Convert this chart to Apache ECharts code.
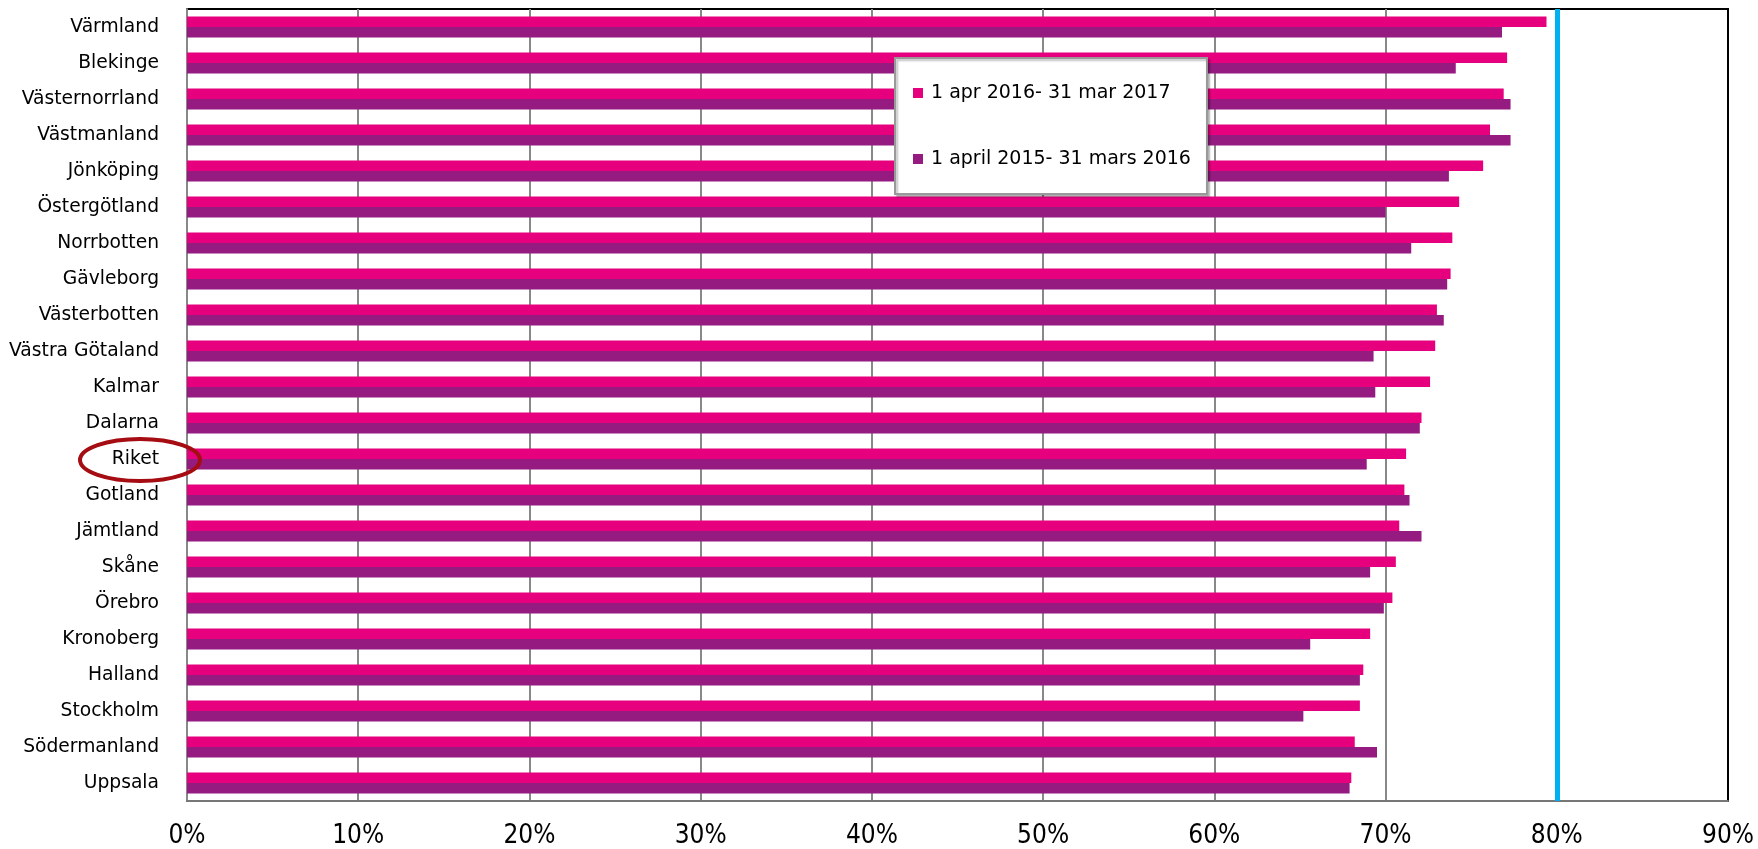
<!DOCTYPE html>
<html>
<head>
<meta charset="utf-8">
<script src="https://cdn.jsdelivr.net/npm/echarts@6/dist/echarts.min.js"></script>
<style>
  html, body { margin: 0; padding: 0; background: #fff; }
  #chart { width: 1758px; height: 849px; }
</style>
</head>
<body>
<div id="chart"></div>
<script>
const categories = ["Värmland", "Blekinge", "Västernorrland", "Västmanland", "Jönköping", "Östergötland",
  "Norrbotten", "Gävleborg", "Västerbotten", "Västra Götaland", "Kalmar", "Dalarna", "Riket",
  "Gotland", "Jämtland", "Skåne", "Örebro", "Kronoberg", "Halland", "Stockholm", "Södermanland", "Uppsala"];
const period2016 = [79.4, 77.1, 76.9, 76.1, 75.7, 74.3, 73.9, 73.8, 73.0, 72.9, 72.6,
  72.1, 71.2, 71.1, 70.8, 70.6, 70.4, 69.1, 68.7, 68.5, 68.2, 68.0];
const period2015 = [76.8, 74.1, 77.3, 77.3, 73.7, 70.0, 71.5, 73.6, 73.4, 69.3, 69.4,
  72.0, 68.9, 71.4, 72.1, 69.1, 69.9, 65.6, 68.5, 65.2, 69.5, 67.9];
const seriesNames = ["1 apr 2016- 31 mar 2017", "1 april 2015- 31 mars 2016"];
const target = 80;
const highlighted = "Riket";

const myChart = echarts.init(document.getElementById("chart"));

const option = {
  animation: false,
  color: ["#E6007E", "#951B81"],
  grid: {
    left: 187,
    right: 30,
    top: 9,
    bottom: 48,
    show: true,
    borderColor: "#000",
    borderWidth: 2
  },
  legend: {
    orient: "vertical",
    left: 895,
    top: 58,
    data: seriesNames,
    icon: "rect",
    itemWidth: 10,
    itemHeight: 10,
    itemGap: 46,
    padding: [25, 16, 25, 18],
    backgroundColor: "#fff",
    borderColor: "#999",
    borderWidth: 2,
    shadowColor: "rgba(0,0,0,0.25)",
    shadowBlur: 2,
    shadowOffsetX: 2,
    shadowOffsetY: 2,
    textStyle: {
      fontFamily: "DejaVu Sans",
      fontSize: 19,
      color: "#000",
      lineHeight: 20,
      padding: [0, 0, 0, 3]
    }
  },
  xAxis: {
    type: "value",
    min: 0,
    max: 90,
    interval: 10,
    axisLine: { show: true, lineStyle: { color: "#777", width: 2 } },
    axisTick: { show: false },
    axisLabel: {
      formatter: "{value}%",
      fontFamily: "DejaVu Sans Condensed",
      fontSize: 26,
      color: "#000",
      margin: 22
    },
    splitLine: {
      show: true,
      showMaxLine: false,
      lineStyle: { color: "#888", width: 2 }
    }
  },
  yAxis: {
    type: "category",
    inverse: true,
    data: categories,
    axisLine: { show: true, lineStyle: { color: "#888", width: 2 } },
    axisTick: { show: false },
    axisLabel: {
      fontFamily: "DejaVu Sans",
      fontSize: 18.7,
      color: "#000",
      margin: 28
    }
  },
  series: [
    {
      name: seriesNames[0],
      type: "bar",
      data: period2016,
      barGap: "0%",
      barCategoryGap: "42%",
      markLine: {
        silent: true,
        symbol: "none",
        label: { show: false },
        lineStyle: { color: "#00B0F0", width: 5, type: "solid" },
        data: [{ xAxis: target }]
      }
    },
    {
      name: seriesNames[1],
      type: "bar",
      data: period2015,
      barGap: "0%",
      barCategoryGap: "42%"
    }
  ]
};
myChart.setOption(option);

// red ring around the national average label
const cy = myChart.convertToPixel({ yAxisIndex: 0 }, highlighted);
const x0 = myChart.convertToPixel({ xAxisIndex: 0 }, 0);
myChart.setOption({
  graphic: [
    {
      type: "ellipse",
      shape: { cx: x0 - 47, cy: cy + 1, rx: 60, ry: 21 },
      style: { fill: "none", stroke: "#A50D12", lineWidth: 4 },
      z: 100
    }
  ]
});
</script>
</body>
</html>
